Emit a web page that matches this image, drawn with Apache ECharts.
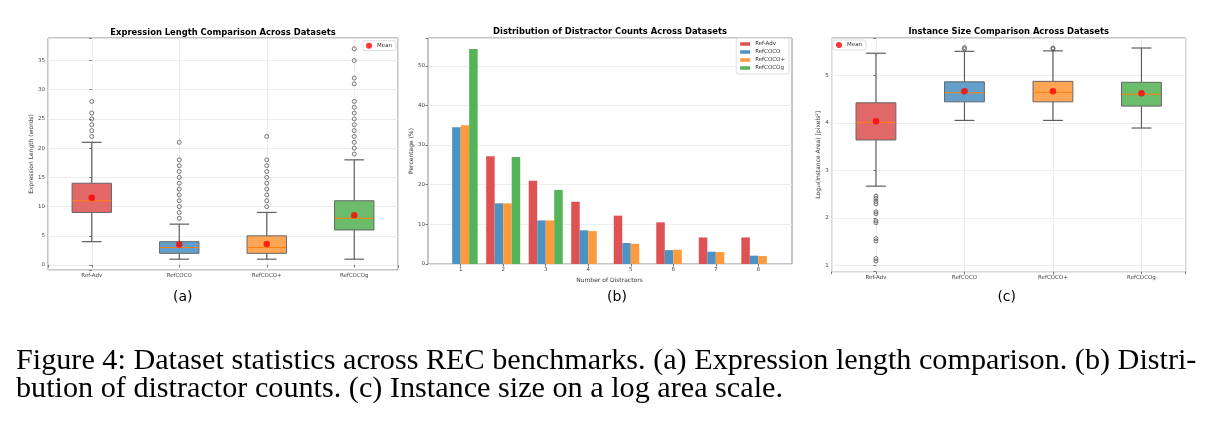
<!DOCTYPE html>
<html>
<head>
<meta charset="utf-8">
<script src="https://cdn.jsdelivr.net/npm/echarts@6/dist/echarts.min.js"></script>
<style>
html, body { margin: 0; padding: 0; background: #fff; }
#main { width: 1219px; height: 429px; }
</style>
</head>
<body>
<div id="main"></div>
<script>
var datasets = ['Ref-Adv', 'RefCOCO', 'RefCOCO+', 'RefCOCOg'];

// (a) expression length, boxes as [min, q1, median, q3, max]
var lenBoxes = [[4, 9, 11, 14, 21], [1, 2, 3, 4, 7], [1, 2, 3, 5, 9], [1, 6, 8, 11, 18]];
var lenMeans = [11.5, 3.5, 3.6, 8.5];
var lenOutliers = [
    [28, 26, 25, 24, 23, 22],
    [21, 18, 17, 16, 15, 14, 13, 12, 11, 10, 9, 8],
    [22, 18, 17, 16, 15, 14, 13, 12, 11, 10],
    [37, 35, 32, 31, 28, 27, 26, 25, 24, 23, 22, 21, 20, 19]
];

// (b) distractor counts (%)
var distractors = ['1', '2', '3', '4', '5', '6', '7', '8'];
var pctRefAdv = [0, 27.2, 21.0, 15.7, 12.2, 10.5, 6.7, 6.7];
var pctRefCOCO = [34.5, 15.3, 11.0, 8.5, 5.3, 3.5, 3.1, 2.1];
var pctRefCOCOp = [35.0, 15.3, 11.0, 8.3, 5.1, 3.6, 3.0, 2.0];
var pctRefCOCOg = [54.2, 27.0, 18.7, 0, 0, 0, 0, 0];

// (c) log10 instance area
var sizeBoxes = [[2.67, 3.64, 4.01, 4.42, 5.46], [4.05, 4.44, 4.63, 4.86, 5.50], [4.05, 4.44, 4.64, 4.87, 5.51], [3.89, 4.35, 4.60, 4.85, 5.57]];
var sizeMeans = [4.03, 4.66, 4.66, 4.62];
var sizeOutliers = [
    [2.46, 2.41, 2.35, 2.30, 2.13, 2.09, 1.94, 1.90, 1.57, 1.52, 1.15, 1.10],
    [5.55, 5.58],
    [5.55, 5.57],
    []
];

var boxColors = ['#e26869', '#62a0cb', '#ffa556', '#6bbc6b'];
var barColors = ['#de5253', '#4c92c3', '#ff993e', '#56b356'];

var myChart = echarts.init(document.getElementById('main'));

function boxRows(boxes) {
    return boxes.map(function (b, i) { return [i].concat(b); });
}
function pointRows(lists) {
    var out = [];
    lists.forEach(function (l, i) { l.forEach(function (v) { out.push([i, v]); }); });
    return out;
}

function renderBox(params, api) {
    var i = api.value(0);
    var x = api.coord([i, 0])[0];
    var yMin = api.coord([i, api.value(1)])[1];
    var yQ1 = api.coord([i, api.value(2)])[1];
    var yMed = api.coord([i, api.value(3)])[1];
    var yQ3 = api.coord([i, api.value(4)])[1];
    var yMax = api.coord([i, api.value(5)])[1];
    var w = api.size([1, 0])[0] * 0.45;
    var wl = {stroke: '#5e5e5e', lineWidth: 1.2};
    return {
        type: 'group',
        children: [
            {type: 'line', shape: {x1: x, y1: yQ3, x2: x, y2: yMax}, style: wl},
            {type: 'line', shape: {x1: x, y1: yQ1, x2: x, y2: yMin}, style: wl},
            {type: 'line', shape: {x1: x - w / 4, y1: yMax, x2: x + w / 4, y2: yMax}, style: wl},
            {type: 'line', shape: {x1: x - w / 4, y1: yMin, x2: x + w / 4, y2: yMin}, style: wl},
            {type: 'rect', shape: {x: x - w / 2, y: yQ3, width: w, height: yQ1 - yQ3},
                style: {fill: boxColors[i], stroke: '#666', lineWidth: 1}},
            {type: 'line', shape: {x1: x - w / 2, y1: yMed, x2: x + w / 2, y2: yMed},
                style: {stroke: '#ff7f0e', lineWidth: 1}}
        ]
    };
}

var labelStyle = {fontSize: 5.5, color: '#444', fontFamily: 'DejaVu Sans', margin: 3};
var tickStyle = {show: true, length: 2.5, lineStyle: {color: '#555', width: 0.8}};
var gridLine = {show: true, lineStyle: {color: '#e8e8e8', width: 0.8}};
var nameStyle = {fontSize: 6, color: '#333', fontFamily: 'DejaVu Sans'};

function intLabel(v) { return Number.isInteger(v) ? v : ''; }
function nameLabel(v) { return Number.isInteger(v) && datasets[v] ? datasets[v] : ''; }

function catValueAxis(gridIndex) {
    return {
        type: 'value', gridIndex: gridIndex, min: -0.5, max: 3.5, minInterval: 1, maxInterval: 1,
        axisLine: {show: false}, axisTick: tickStyle, splitLine: gridLine,
        axisLabel: Object.assign({formatter: nameLabel}, labelStyle)
    };
}

function legendBox(extra) {
    return Object.assign({
        orient: 'vertical', itemWidth: 6, itemHeight: 6, itemGap: 1,
        textStyle: {fontSize: 5.5, color: '#333', fontFamily: 'DejaVu Sans'},
        borderColor: '#d4d4d4', borderWidth: 0.8, borderRadius: 2,
        padding: [2, 4, 2, 3], backgroundColor: '#fff'
    }, extra);
}

function barSeries(name, data, color) {
    return {
        name: name, type: 'bar', xAxisIndex: 2, yAxisIndex: 2, data: data,
        barWidth: '20%', barGap: '0%',
        itemStyle: {color: color}
    };
}

function graphicText(x, y, text, size, family, weight, align) {
    return {
        type: 'text', x: x, y: y,
        style: {text: text, fontSize: size, fontFamily: family, fontWeight: weight || 'normal',
            fill: '#000', align: align || 'center', verticalAlign: 'middle'}
    };
}

var option = {
    animation: false,
    backgroundColor: '#fff',
    grid: [
        {left: 48, right: 821, top: 38, bottom: 159, show: true, borderColor: '#8a8a8a', borderWidth: 1},
        {left: 428, right: 427, top: 38, bottom: 165, show: true, borderColor: '#8a8a8a', borderWidth: 1},
        {left: 439.4, right: 439.4, top: 38, bottom: 165},
        {left: 831.7, right: 33.3, top: 38, bottom: 157.3, show: true, borderColor: '#8a8a8a', borderWidth: 1}
    ],
    xAxis: [
        catValueAxis(0),
        {type: 'value', gridIndex: 1, min: 0.21, max: 8.79, show: false},
        {
            type: 'category', gridIndex: 2, data: distractors,
            axisLine: {show: false}, axisTick: Object.assign({alignWithLabel: true}, tickStyle),
            axisLabel: labelStyle, splitLine: {show: false},
            name: 'Number of Distractors', nameLocation: 'middle', nameGap: 10, nameTextStyle: nameStyle
        },
        catValueAxis(3)
    ],
    yAxis: [
        {
            type: 'value', gridIndex: 0, min: -0.85, max: 38.85, minInterval: 5, maxInterval: 5,
            axisLine: {show: false}, axisTick: tickStyle, splitLine: gridLine,
            axisLabel: Object.assign({formatter: intLabel}, labelStyle),
            name: 'Expression Length (words)', nameLocation: 'middle', nameGap: 12, nameTextStyle: nameStyle
        },
        {
            type: 'value', gridIndex: 1, min: 0, max: 57, minInterval: 10, maxInterval: 10,
            axisLine: {show: false}, axisTick: tickStyle, splitLine: gridLine,
            axisLabel: Object.assign({formatter: function (v) { return v % 10 === 0 ? v : ''; }}, labelStyle),
            name: 'Percentage (%)', nameLocation: 'middle', nameGap: 11, nameTextStyle: nameStyle
        },
        {type: 'value', gridIndex: 2, min: 0, max: 57, show: false},
        {
            type: 'value', gridIndex: 3, min: 0.874, max: 5.78, minInterval: 1, maxInterval: 1,
            axisLine: {show: false}, axisTick: tickStyle, splitLine: gridLine,
            axisLabel: Object.assign({formatter: intLabel}, labelStyle),
            name: 'Log\u2081\u2080(Instance Area) [pixels\u00b2]', nameLocation: 'middle', nameGap: 9, nameTextStyle: nameStyle
        }
    ],
    legend: [
        legendBox({data: ['Mean'], right: 823, top: 40.7}),
        legendBox({data: ['Ref-Adv', 'RefCOCO', 'RefCOCO+', 'RefCOCOg'], right: 430, top: 38,
            itemWidth: 10, itemHeight: 3.5, itemGap: 2, icon: 'rect', padding: [3, 4, 3, 4]}),
        legendBox({data: ['Mean'], left: 833, top: 40})
    ],
    series: [
        // (a)
        {name: 'lenBox', type: 'custom', xAxisIndex: 0, yAxisIndex: 0, renderItem: renderBox,
            encode: {x: 0, y: [1, 2, 3, 4, 5]}, data: boxRows(lenBoxes), z: 2},
        {name: 'lenOut', type: 'scatter', xAxisIndex: 0, yAxisIndex: 0, data: pointRows(lenOutliers),
            symbol: 'circle', symbolSize: 4, z: 3,
            itemStyle: {color: 'rgba(0,0,0,0)', borderColor: '#444', borderWidth: 0.9}},
        {name: 'Mean', type: 'scatter', xAxisIndex: 0, yAxisIndex: 0, symbolSize: 6.5, z: 4,
            data: lenMeans.map(function (m, i) { return [i, m]; }), itemStyle: {color: '#ff0000'}},
        // (b)
        barSeries('Ref-Adv', pctRefAdv, barColors[0]),
        barSeries('RefCOCO', pctRefCOCO, barColors[1]),
        barSeries('RefCOCO+', pctRefCOCOp, barColors[2]),
        barSeries('RefCOCOg', pctRefCOCOg, barColors[3]),
        // (c)
        {name: 'sizeBox', type: 'custom', xAxisIndex: 3, yAxisIndex: 3, renderItem: renderBox,
            encode: {x: 0, y: [1, 2, 3, 4, 5]}, data: boxRows(sizeBoxes), z: 2},
        {name: 'sizeOut', type: 'scatter', xAxisIndex: 3, yAxisIndex: 3, data: pointRows(sizeOutliers),
            symbol: 'circle', symbolSize: 4, z: 3,
            itemStyle: {color: 'rgba(0,0,0,0)', borderColor: '#444', borderWidth: 0.9}},
        {name: 'Mean', type: 'scatter', xAxisIndex: 3, yAxisIndex: 3, symbolSize: 6.5, z: 4,
            data: sizeMeans.map(function (m, i) { return [i, m]; }), itemStyle: {color: '#ff0000'}}
    ],
    graphic: [
        graphicText(223, 32.5, 'Expression Length Comparison Across Datasets', 8.4, 'DejaVu Sans', 'bold'),
        graphicText(610, 31.5, 'Distribution of Distractor Counts Across Datasets', 8.4, 'DejaVu Sans', 'bold'),
        graphicText(1008.7, 31.5, 'Instance Size Comparison Across Datasets', 8.4, 'DejaVu Sans', 'bold'),
        graphicText(182.7, 297, '(a)', 14, 'DejaVu Sans'),
        graphicText(617, 297, '(b)', 14, 'DejaVu Sans'),
        graphicText(1006.7, 297, '(c)', 14, 'DejaVu Sans'),
        graphicText(16, 361, 'Figure 4: Dataset statistics across REC benchmarks. (a) Expression length comparison. (b) Distri-', 30.2, 'Liberation Serif', 'normal', 'left'),
        graphicText(16, 389, 'bution of distractor counts. (c) Instance size on a log area scale.', 30.2, 'Liberation Serif', 'normal', 'left')
    ]
};

myChart.setOption(option);
</script>
</body>
</html>
